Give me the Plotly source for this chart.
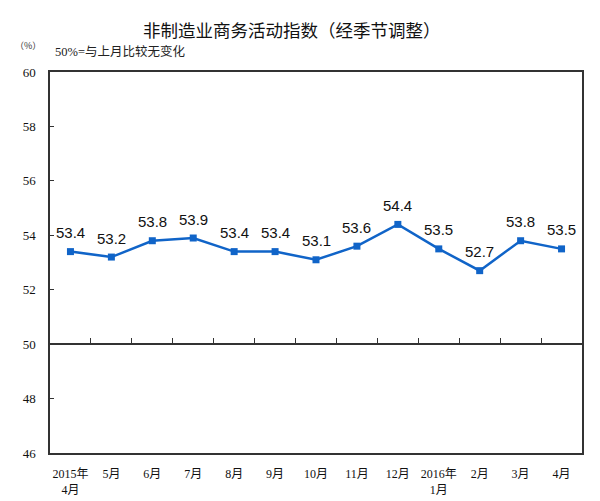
import plotly.graph_objects as go

categories = ["2015年<br>4月", "5月", "6月", "7月", "8月", "9月", "10月", "11月", "12月",
              "2016年<br>1月", "2月", "3月", "4月"]
values = [53.4, 53.2, 53.8, 53.9, 53.4, 53.4, 53.1, 53.6, 54.4, 53.5, 52.7, 53.8, 53.5]
y_ticks = [46, 48, 50, 52, 54, 56, 58, 60]

serif = "Liberation Serif, Noto Sans CJK SC, serif"
cjk = "Noto Sans CJK SC, sans-serif"

OFF = 8  # page body margin
W, H = 600 - 2 * OFF, 501 - OFF
# desired plot box in screenshot pixels: left 50, right 582, top 72, bottom 453
L, T = 50 - OFF, 72 - OFF
R = W - (582 - OFF)
B = H - (453 - OFF)
pw, ph = W - L - R, H - T - B


def px_to_paper(px, py):
    return (px - OFF - L) / pw, (H - B - (py - OFF)) / ph


fig = go.Figure()
fig.add_trace(go.Scatter(
    x=list(range(len(categories))), y=values, mode="lines+markers",
    line=dict(color="#1064C8", width=2.5),
    marker=dict(symbol="square", size=7, color="#1064C8"),
    hoverinfo="skip", showlegend=False,
))
fig.add_trace(go.Scatter(x=[None], y=[None], xaxis="x2", showlegend=False, hoverinfo="skip"))

annotations = []
for i, v in enumerate(values):
    annotations.append(dict(x=i, y=v, xref="x", yref="y", text=f"{v:.1f}", showarrow=False,
                            yshift=19, font=dict(family="Liberation Sans, Arial", size=15, color="#111")))

for text, (px, py), font in [
    ("非制造业商务活动指数（经季节调整）", (292, 30), dict(family=cjk, size=17.5, color="#111")),
    ("（%）", (28, 46), dict(family=cjk, size=9, color="#333")),
    ("50%=与上月比较无变化", (120, 52), dict(family=serif, size=12.5, color="#222")),
]:
    ax, ay = px_to_paper(px, py)
    annotations.append(dict(text=text, x=ax, y=ay, xref="paper", yref="paper",
                            xanchor="center", yanchor="middle", showarrow=False, font=font))

fig.update_layout(
    width=W, height=H, margin=dict(l=L, r=R, t=T, b=B, autoexpand=False),
    paper_bgcolor="white", plot_bgcolor="white",
    annotations=annotations,
    xaxis=dict(range=[-0.5, len(categories) - 0.5], tickmode="array",
               tickvals=list(range(len(categories))), ticktext=categories,
               showgrid=False, zeroline=False, showline=True, mirror=True,
               linecolor="#333", linewidth=1.5, ticks="", ticklabelstandoff=9,
               automargin=False,
               tickfont=dict(family=serif, size=12, color="#111")),
    xaxis2=dict(range=[-0.5, len(categories) - 0.5], overlaying="x", anchor="free",
                position=(50 - 46) / (60 - 46), side="bottom", showline=True,
                linecolor="#333", linewidth=1.5, ticks="inside", ticklen=5,
                tickcolor="#333", tickwidth=1, automargin=False,
                tickvals=[i + 0.5 for i in range(len(categories) - 1)],
                showticklabels=False, showgrid=False, zeroline=False),
    yaxis=dict(range=[46, 60], tickvals=y_ticks, showgrid=False, zeroline=False,
               showline=True, mirror=True, linecolor="#333", linewidth=1.5,
               ticks="inside", ticklen=4, tickcolor="#333", automargin=False,
               tickfont=dict(family=serif, size=13, color="#111"), ticklabelstandoff=10),
)

fig.write_html("out.html")
